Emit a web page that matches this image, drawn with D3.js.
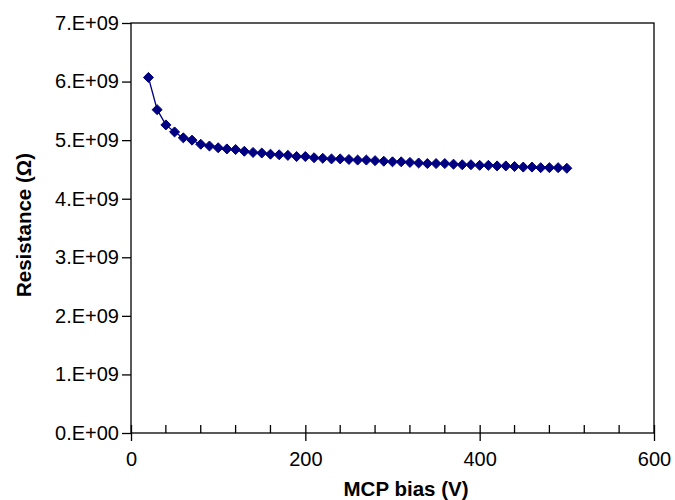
<!DOCTYPE html>
<html lang="en">
<head>
  <meta charset="UTF-8">
  <title>Resistance vs MCP bias</title>
  <script src="https://d3js.org/d3.v7.min.js"></script>
  <style>
    body { margin: 0; background: #fff; }
    svg { display: block; font-family: "Liberation Sans", Arial, sans-serif; }
    .tick-label { font-size: 20px; fill: #000; }
    .axis-title { font-size: 20.5px; font-weight: bold; fill: #000; }
  </style>
</head>
<body>
  <div id="chart"></div>

  <script>
    // MCP bias (V)
    const bias = [20, 30, 40, 50, 60, 70, 80, 90, 100, 110, 120, 130, 140, 150, 160, 170, 180, 190, 200,
      210, 220, 230, 240, 250, 260, 270, 280, 290, 300, 310, 320, 330, 340, 350, 360, 370, 380, 390, 400,
      410, 420, 430, 440, 450, 460, 470, 480, 490, 500];
    // resistance in units of 1e9 ohm
    const resistance = [6.07, 5.52, 5.26, 5.14, 5.04, 5.00, 4.93, 4.90, 4.87, 4.85, 4.84, 4.81, 4.79, 4.78, 4.76, 4.75, 4.74, 4.72, 4.72,
      4.70, 4.69, 4.68, 4.68, 4.67, 4.66, 4.66, 4.65, 4.64, 4.63, 4.63, 4.62, 4.61, 4.60, 4.60, 4.60, 4.59, 4.58, 4.58, 4.57,
      4.57, 4.56, 4.56, 4.55, 4.54, 4.54, 4.53, 4.53, 4.53, 4.52];

    const xMajor = [0, 200, 400, 600];
    const xMinor = [40, 80, 120, 160, 240, 280, 320, 360, 440, 480, 520, 560];
    const yTicks = [0, 1, 2, 3, 4, 5, 6, 7];
    const yTickLabels = ["0.E+00", "1.E+09", "2.E+09", "3.E+09", "4.E+09", "5.E+09", "6.E+09", "7.E+09"];

    const W = 675, H = 500;
    const plot = { left: 131, right: 654, top: 23, bottom: 433 };

    const svg = d3.select("#chart").append("svg")
      .attr("width", W)
      .attr("height", H);

    const x = d3.scaleLinear().domain([0, 600]).range([plot.left, plot.right]);
    const y = d3.scaleLinear().domain([0, 7]).range([plot.bottom, plot.top]);

    const data = bias.map((b, i) => ({ b, r: resistance[i] }));

    // frame
    svg.append("rect")
      .attr("x", plot.left).attr("y", plot.top)
      .attr("width", plot.right - plot.left).attr("height", plot.bottom - plot.top)
      .attr("fill", "none").attr("stroke", "#000").attr("stroke-width", 1.3);

    // y axis
    const yAxis = svg.append("g")
      .attr("transform", `translate(${plot.left},0)`)
      .call(d3.axisLeft(y).tickValues(yTicks).tickSize(9).tickPadding(3)
        .tickFormat((d, i) => yTickLabels[i]));
    yAxis.select(".domain").remove();
    yAxis.selectAll("line").attr("stroke", "#000").attr("stroke-width", 1.3);
    yAxis.selectAll("text").attr("class", "tick-label");
    yAxis.attr("font-size", null).attr("font-family", null);

    // x axis major (crossing ticks)
    const xAxis = svg.append("g")
      .attr("transform", `translate(0,${plot.bottom})`)
      .call(d3.axisBottom(x).tickValues(xMajor).tickSizeInner(8).tickSizeOuter(0).tickPadding(11)
        .tickFormat(d3.format("d")));
    xAxis.select(".domain").remove();
    xAxis.selectAll(".tick line").attr("y1", -8).attr("stroke", "#000").attr("stroke-width", 1.3);
    xAxis.selectAll("text").attr("class", "tick-label");
    xAxis.attr("font-size", null).attr("font-family", null);

    // x axis minor (inside ticks)
    svg.append("g").selectAll("line")
      .data(xMinor)
      .enter().append("line")
      .attr("x1", d => x(d)).attr("x2", d => x(d))
      .attr("y1", plot.bottom).attr("y2", plot.bottom - 8)
      .attr("stroke", "#000").attr("stroke-width", 1.3);

    // series line
    svg.append("path")
      .datum(data)
      .attr("fill", "none")
      .attr("stroke", "#000080")
      .attr("stroke-width", 1.3)
      .attr("d", d3.line().x(d => x(d.b)).y(d => y(d.r)));

    // markers
    svg.append("g").selectAll("path")
      .data(data)
      .enter().append("path")
      .attr("transform", d => `translate(${x(d.b)},${y(d.r)})`)
      .attr("d", d3.symbol().type(d3.symbolDiamond2).size(64))
      .attr("fill", "#000080")
      .attr("stroke", "#000080")
      .attr("stroke-width", 1);

    // axis titles
    svg.append("text")
      .attr("class", "axis-title")
      .attr("x", 406)
      .attr("y", 496)
      .attr("text-anchor", "middle")
      .text("MCP bias (V)");

    svg.append("text")
      .attr("class", "axis-title")
      .attr("transform", `translate(31,225) rotate(-90)`)
      .attr("text-anchor", "middle")
      .text("Resistance (Ω)");
  </script>
</body>
</html>
